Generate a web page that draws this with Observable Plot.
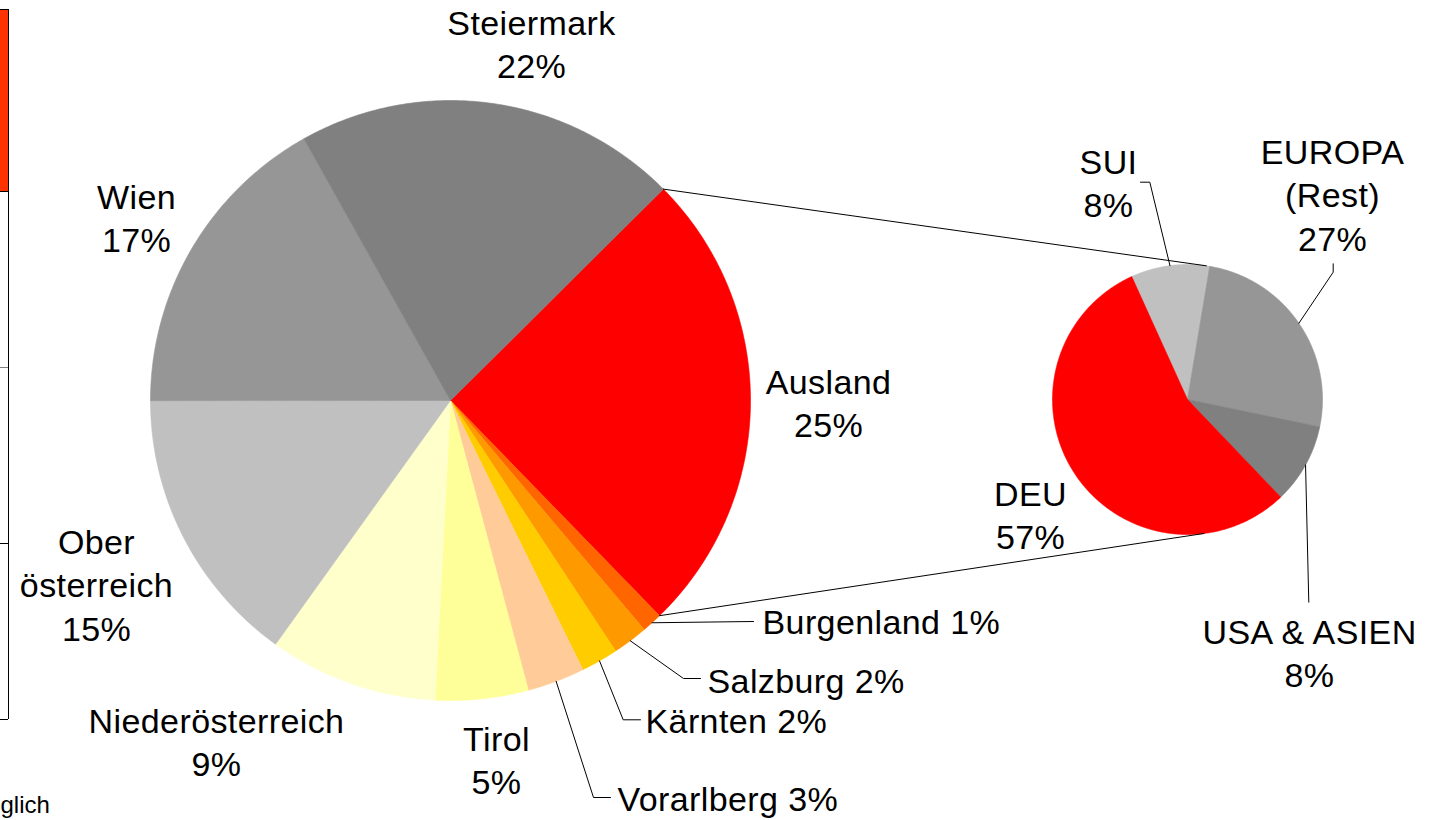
<!DOCTYPE html>
<html><head><meta charset="utf-8">
<script src="https://cdn.jsdelivr.net/npm/d3@7"></script>
<script src="https://cdn.jsdelivr.net/npm/@observablehq/plot@0.6"></script>
<style>html,body{margin:0;padding:0;background:#fff;overflow:hidden} .lbl text, text.lbl{letter-spacing:0.4px}</style>
</head><body><div id="chart"></div>
<script>
// ---- data ----
const mainCategories = ["Ausland","Burgenland","Salzburg","Kärnten","Vorarlberg","Tirol","Niederösterreich","Ober österreich","Wien","Steiermark"];
const mainShares = [25.2, 1.1, 1.9, 2.0, 3.1, 5.0, 9.1, 15.1, 16.9, 20.7];
const mainPercentLabels = ["25%","1%","2%","2%","3%","5%","9%","15%","17%","22%"];
const mainColors = ["#FF0000","#FF6600","#FF9900","#FFCC00","#FFCC99","#FFFF99","#FFFFCC","#C0C0C0","#969696","#808080"];

const subCategories = ["SUI","EUROPA (Rest)","USA & ASIEN","DEU"];
const subShares = [9.4, 25.6, 9.6, 55.3];
const subPercentLabels = ["8%","27%","8%","57%"];
const subColors = ["#C0C0C0","#969696","#808080","#FF0000"];

// ---- layout ----
const W = 1436, H = 820;
const MAIN = {cx: 450, cy: 400, r: 300, start: 45.2, id: "m"};
const SUB = {cx: 1187, cy: 399, r: 135, start: 335.6, id: "s"};
const CONNECT_TOP = 8, CONNECT_BOTTOM = 173;
const FS = 34, LINE = 43.5;
const FONT = "'Liberation Sans', Arial, Helvetica, sans-serif";

const labelLayout = {
  "Ausland": {x: 828, y: 393, anchor: "middle"},
  "Burgenland": {x: 762, y: 633, anchor: "start", inline: true, leader: [[753, 621]]},
  "Salzburg": {x: 707, y: 692, anchor: "start", inline: true, leader: [[683, 678], [700, 678]]},
  "Kärnten": {x: 645, y: 732, anchor: "start", inline: true, leader: [[622.7, 719.3], [640, 719.3]]},
  "Vorarlberg": {x: 617, y: 810, anchor: "start", inline: true, leader: [[593, 797], [610, 797]]},
  "Tirol": {x: 496, y: 750, anchor: "middle"},
  "Niederösterreich": {x: 216, y: 732, anchor: "middle"},
  "Ober österreich": {x: 96, y: 553, anchor: "middle", wrap: true},
  "Wien": {x: 136, y: 208, anchor: "middle"},
  "Steiermark": {x: 531, y: 34, anchor: "middle"},
  "SUI": {x: 1108, y: 173, anchor: "middle", leader: [[1149.3, 181.7], [1140, 181.7]]},
  "EUROPA (Rest)": {x: 1332, y: 163, anchor: "middle", wrap: true, leader: [[1332.7, 271.7], [1332.7, 263.3]]},
  "USA & ASIEN": {x: 1309, y: 643, anchor: "middle", leader: [[1308.3, 601.7]]},
  "DEU": {x: 1030, y: 505, anchor: "middle"}
};

// ---- geometry from the values ----
const rad = (a) => a * Math.PI / 180;
const onPie = (pie, a, r = pie.r) => ({x: pie.cx + r * Math.sin(rad(a)), y: pie.cy - r * Math.cos(rad(a))});

function buildPie(cats, shares, colors, pctLabels, pie) {
  const total = d3.sum(shares);
  let a = pie.start;
  const polys = [], arcs = [];
  cats.forEach((c, i) => {
    const span = shares[i] / total * 360;
    const a0 = a, a1 = a + span;
    const n = Math.max(2, Math.ceil(span / 0.5));
    const key = pie.id + i;
    const pts = [{x: pie.cx, y: pie.cy}];
    for (let k = 0; k <= n; k++) pts.push(onPie(pie, a0 + span * k / n));
    pts.push({x: pie.cx, y: pie.cy});
    pts.forEach((p) => polys.push({...p, key, color: colors[i]}));
    arcs.push({name: c, pct: pctLabels[i], a0, a1, mid: (a0 + a1) / 2, pie});
    a = a1;
  });
  return {polys, arcs};
}

const mainPie = buildPie(mainCategories, mainShares, mainColors, mainPercentLabels, MAIN);
const subPie = buildPie(subCategories, subShares, subColors, subPercentLabels, SUB);
const allArcs = [...mainPie.arcs, ...subPie.arcs];

// labels
const textRows = [];
const leaderRows = [];
allArcs.forEach((arc, i) => {
  const L = labelLayout[arc.name];
  let lines;
  if (L.inline) lines = [arc.name + " " + arc.pct];
  else if (L.wrap) lines = [...arc.name.split(" "), arc.pct];
  else lines = [arc.name, arc.pct];
  lines.forEach((t, j) => textRows.push({text: t, x: L.x, y: L.y + j * LINE - 0.32 * FS, anchor: L.anchor}));
  if (L.leader) {
    const p0 = onPie(arc.pie, arc.mid);
    const pts = [[p0.x, p0.y], ...L.leader];
    pts.forEach(([x, y]) => leaderRows.push({x, y, key: "l" + i}));
  }
});

// connectors between main "Ausland" slice and secondary pie
const aus = mainPie.arcs[0];
const connectors = [
  [onPie(MAIN, aus.a0), onPie(SUB, CONNECT_TOP)],
  [onPie(MAIN, aus.a1), onPie(SUB, CONNECT_BOTTOM)]
].flatMap((seg, i) => seg.map((p) => ({...p, key: "c" + i})));

// slide fragment at left edge
const tableRows = [9, 191, 367, 543, 719];

const chart = Plot.plot({
  width: W, height: H, margin: 0,
  x: {domain: [0, W], range: [0, W], axis: null},
  y: {domain: [0, H], range: [0, H], axis: null},
  color: {type: "identity"},
  style: {fontFamily: FONT, background: "#fff"},
  marks: [
    Plot.rect([{x1: 0, x2: 8, y1: tableRows[0], y2: tableRows[1]}], {x1: "x1", x2: "x2", y1: "y1", y2: "y2", fill: "#FF3300"}),
    Plot.ruleY(tableRows, {x1: () => 0, x2: () => 8, y: (d) => d, stroke: (d, i) => i === 2 ? "#808080" : "#000", strokeWidth: 1}),
    Plot.ruleX([8], {x: (d) => d, y1: () => tableRows[0], y2: () => tableRows[4], stroke: "#000", strokeWidth: 1}),
    Plot.line(mainPie.polys, {x: "x", y: "y", z: "key", fill: "color", stroke: "color", strokeWidth: 0.6, curve: "linear"}),
    Plot.line(subPie.polys, {x: "x", y: "y", z: "key", fill: "color", stroke: "color", strokeWidth: 0.6, curve: "linear"}),
    Plot.line(connectors, {x: "x", y: "y", z: "key", stroke: "#000", strokeWidth: 1}),
    Plot.line(leaderRows, {x: "x", y: "y", z: "key", stroke: "#000", strokeWidth: 1}),
    Plot.text(textRows.filter((d) => d.anchor === "middle"), {x: "x", y: "y", text: "text", fontSize: FS, fill: "#000", textAnchor: "middle", className: "lbl"}),
    Plot.text(textRows.filter((d) => d.anchor === "start"), {x: "x", y: "y", text: "text", fontSize: FS, fill: "#000", textAnchor: "start", className: "lbl"}),
    Plot.text(["glich"], {x: () => 0, y: () => 812 - 0.32 * 24, text: (d) => d, fontSize: 24, fill: "#000", textAnchor: "start"})
  ]
});
document.getElementById("chart").appendChild(chart);
</script>
</body></html>
